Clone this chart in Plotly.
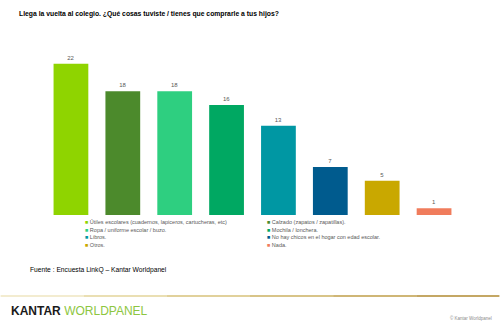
import plotly.graph_objects as go

categories = [
    "Útiles escolares (cuadernos, lapiceros, cartucheras, etc)",
    "Calzado (zapatos / zapatillas).",
    "Ropa / uniforme escolar / buzo.",
    "Mochila / lonchera.",
    "Libros.",
    "No hay chicos en el hogar con edad escolar.",
    "Otros.",
    "Nada.",
]
values = [22, 18, 18, 16, 13, 7, 5, 1]
colors = ["#8fd400", "#4c8a2c", "#2ecf80", "#00a862", "#0097a3", "#005b8e", "#c9a800", "#f07c5c"]

title_text = "Llega la vuelta al colegio. ¿Qué cosas tuviste / tienes que comprarle a tus hijos?"
source_text = "Fuente : Encuesta LinkQ – Kantar Worldpanel"

W, H = 500, 331
ml, mr, mt, mb = 44.5, 500 - 460.5, 50, 116

def px_to_paper_x(px):
    return (px - ml) / (W - ml - mr)

def px_to_paper_y(py):
    return (H - mb - py) / (H - mt - mb)

fig = go.Figure()
fig.add_trace(go.Bar(
    x=categories, y=values,
    marker=dict(color=colors, line=dict(width=0)),
    text=[str(v) for v in values], textposition="outside",
    textfont=dict(size=6, color="#595959", family="Arial"),
    cliponaxis=False, showlegend=False,
))

annotations = []
annotations.append(dict(text="<b>" + title_text + "</b>", x=px_to_paper_x(16), y=px_to_paper_y(13.5),
                        xref="paper", yref="paper",
                        showarrow=False, xanchor="left", yanchor="middle",
                        font=dict(size=6.8, color="#000000", family="Arial")))

# Legend as annotations (2 columns, row-major)
col_x = [83, 265]
row_y = [222, 229.5, 237, 244.5]
for i, (cat, col) in enumerate(zip(categories, colors)):
    c = i % 2
    r = i // 2
    annotations.append(dict(
        text=f'<span style="color:{col}">■</span> {cat}',
        x=px_to_paper_x(col_x[c]), y=px_to_paper_y(row_y[r]),
        xref="paper", yref="paper", showarrow=False,
        xanchor="left", yanchor="middle",
        font=dict(size=5.5, color="#595959", family="Arial")))

annotations.append(dict(text=source_text, x=px_to_paper_x(27), y=px_to_paper_y(270),
                        xref="paper", yref="paper", showarrow=False, xanchor="left", yanchor="middle",
                        font=dict(size=6.7, color="#000000", family="Arial")))

annotations.append(dict(text='<b><span style="color:#1a1a1a">KANTAR</span></b> <span style="color:#8dc63f">WORLDPANEL</span>',
                        x=px_to_paper_x(8), y=px_to_paper_y(311),
                        xref="paper", yref="paper", showarrow=False, xanchor="left", yanchor="middle",
                        font=dict(size=12, family="Arial")))
annotations.append(dict(text="© Kantar Worldpanel", x=px_to_paper_x(495), y=px_to_paper_y(318),
                        xref="paper", yref="paper", showarrow=False, xanchor="right", yanchor="middle",
                        font=dict(size=4.5, color="#8c8c8c", family="Arial")))

shapes = []
grad = ["#efe6c0", "#e3d49a", "#d7c27a", "#cbb060", "#bf9e48", "#b08a30"]
n = len(grad)
for i, g in enumerate(grad):
    shapes.append(dict(type="line", xref="paper", yref="paper",
                       x0=px_to_paper_x(500 * i / n), x1=px_to_paper_x(500 * (i + 1) / n),
                       y0=px_to_paper_y(296), y1=px_to_paper_y(296),
                       line=dict(color=g, width=1.5)))

fig.update_layout(
    width=W, height=H,
    margin=dict(l=ml, r=mr, t=mt, b=mb),
    paper_bgcolor="white", plot_bgcolor="white",
    bargap=0.33,
    xaxis=dict(showticklabels=False, showgrid=False, zeroline=False, showline=False, ticks=""),
    yaxis=dict(range=[0, 24], showticklabels=False, showgrid=False, zeroline=False, showline=False),
    annotations=annotations, shapes=shapes,
    font=dict(family="Arial"),
)

fig.write_html("out.html")
